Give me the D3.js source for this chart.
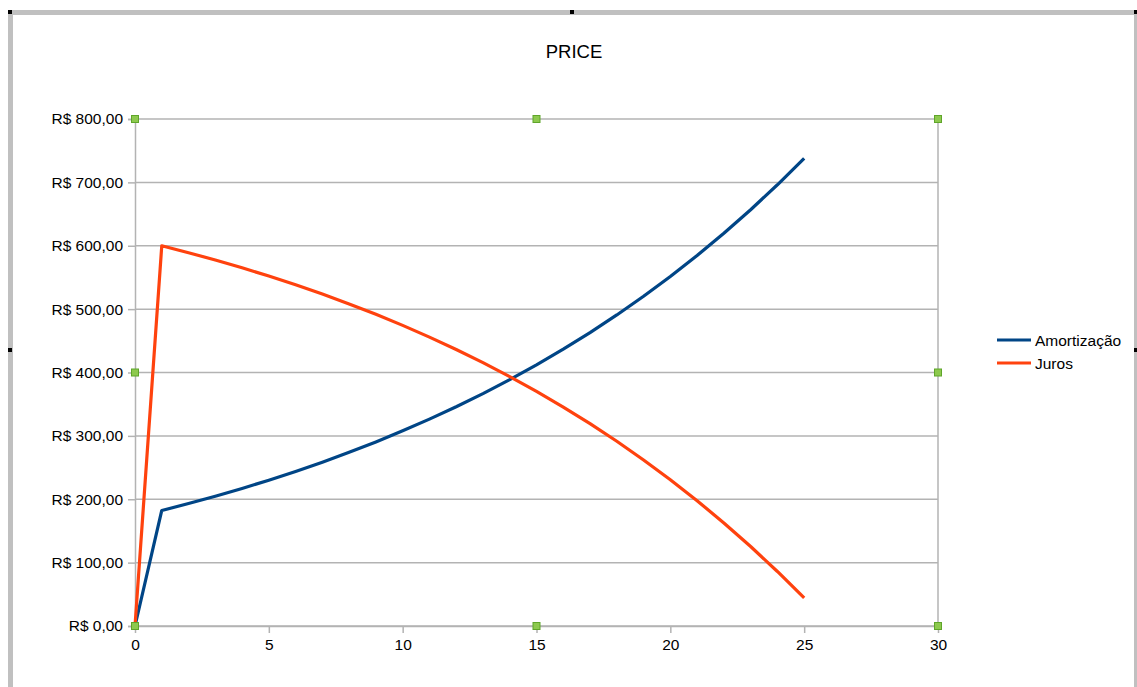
<!DOCTYPE html>
<html>
<head>
<meta charset="utf-8">
<script src="https://cdn.jsdelivr.net/npm/d3@7"></script>
<style>
  html, body { margin: 0; padding: 0; background: #fff; }
  svg { display: block; font-family: "Liberation Sans", Arial, sans-serif; }
</style>
</head>
<body>
<svg id="chart" width="1137" height="687"></svg>
<script>
// Price amortization table: period, principal paid, interest paid
const periods = [0,1,2,3,4,5,6,7,8,9,10,11,12,13,14,15,16,17,18,19,20,21,22,23,24,25];
const amortizacao = [0,182.27,193.21,204.80,217.09,230.11,243.92,258.55,274.07,290.51,307.94,326.42,346.00,366.76,388.77,412.10,436.82,463.03,490.81,520.26,551.48,584.56,619.64,656.82,696.22,738.00];
const juros = [0,600.00,589.06,577.47,565.18,552.16,538.35,523.72,508.20,491.76,474.33,455.85,436.27,415.51,393.50,370.17,345.45,319.24,291.46,262.01,230.79,197.71,162.63,125.45,86.05,44.27];
const xTicks = [0,5,10,15,20,25,30];
const yTicks = [0,100,200,300,400,500,600,700,800];
const seriesNames = ["Amortização","Juros"];
const seriesColors = ["#004586","#ff420e"];

const svg = d3.select("#chart");
const plot = { left: 135, right: 938, top: 119, bottom: 626 };

const x = d3.scaleLinear().domain([0,30]).range([plot.left, plot.right]);
const y = d3.scaleLinear().domain([0,800]).range([plot.bottom, plot.top]);

// Outer selection frame
const frame = svg.append("g");
frame.append("rect").attr("x",8).attr("y",10).attr("width",1130).attr("height",5).attr("fill","#c0c0c0");
frame.append("rect").attr("x",8).attr("y",10).attr("width",5).attr("height",680).attr("fill","#c0c0c0");
frame.append("rect").attr("x",1134).attr("y",10).attr("width",3).attr("height",680).attr("fill","#c0c0c0");
[[8,10],[570,10],[1134,10],[8,348],[1134,348]].forEach(([hx,hy]) => {
  frame.append("rect").attr("x",hx).attr("y",hy).attr("width",4).attr("height",4).attr("fill","#000");
});

// Title
svg.append("text").attr("x",574).attr("y",58).attr("text-anchor","middle")
  .attr("font-size",18.5).attr("fill","#000").text("PRICE");

const grid = "#b3b3b3";

// Horizontal gridlines
svg.append("g").selectAll("line").data(yTicks).join("line")
  .attr("x1",plot.left).attr("x2",plot.right)
  .attr("y1",d=>y(d)).attr("y2",d=>y(d))
  .attr("stroke",grid).attr("stroke-width",1.5);

// Right border of plot area
svg.append("line").attr("x1",plot.right).attr("x2",plot.right)
  .attr("y1",plot.top).attr("y2",plot.bottom).attr("stroke",grid).attr("stroke-width",1.5);

// Y axis
const yAxis = d3.axisLeft(y).tickValues(yTicks).tickSize(7).tickPadding(5)
  .tickFormat(d => "R$ " + d3.format(".2f")(d).replace(".", ","));
const gy = svg.append("g").attr("transform",`translate(${plot.left},0)`).call(yAxis);
gy.select(".domain").attr("stroke",grid).attr("stroke-width",1.5);
gy.selectAll(".tick line").attr("stroke",grid).attr("stroke-width",1.5);
gy.selectAll(".tick text").attr("font-size",15.5).attr("fill","#000")
  .attr("font-family","Liberation Sans, Arial, sans-serif");

// X axis
const xAxis = d3.axisBottom(x).tickValues(xTicks).tickSize(7).tickPadding(6).tickSizeOuter(0);
const gx = svg.append("g").attr("transform",`translate(0,${plot.bottom})`).call(xAxis);
gx.select(".domain").attr("stroke",grid).attr("stroke-width",1.5);
gx.selectAll(".tick line").attr("stroke",grid).attr("stroke-width",1.5);
gx.selectAll(".tick text").attr("font-size",15.5).attr("fill","#000")
  .attr("font-family","Liberation Sans, Arial, sans-serif");

// Series lines
const line = d3.line().x((d,i)=>x(periods[i])).y(d=>y(d));
[amortizacao, juros].forEach((vals, k) => {
  svg.append("path").datum(vals).attr("d", line)
    .attr("fill","none").attr("stroke",seriesColors[k]).attr("stroke-width",3.2)
    .attr("stroke-linejoin","round");
});

// Selection handles on the plot area
const hx = [plot.left, (plot.left+plot.right)/2, plot.right];
const hy = [plot.top, (plot.top+plot.bottom)/2, plot.bottom];
const handles = [];
hx.forEach((a,i) => hy.forEach((b,j) => { if (!(i===1 && j===1)) handles.push([a,b]); }));
svg.append("g").selectAll("rect").data(handles).join("rect")
  .attr("x",d=>d[0]-3.5).attr("y",d=>d[1]-3.5).attr("width",7).attr("height",7)
  .attr("fill","#8dc94e").attr("stroke","#5fa52a").attr("stroke-width",1);

// Legend
const legend = svg.append("g");
seriesNames.forEach((name,k) => {
  const ly = 340 + k*23;
  legend.append("line").attr("x1",997).attr("x2",1031).attr("y1",ly).attr("y2",ly)
    .attr("stroke",seriesColors[k]).attr("stroke-width",3.2);
  legend.append("text").attr("x",1035).attr("y",ly+5.5).attr("font-size",15.5)
    .attr("fill","#000").text(name);
});
</script>
</body>
</html>
